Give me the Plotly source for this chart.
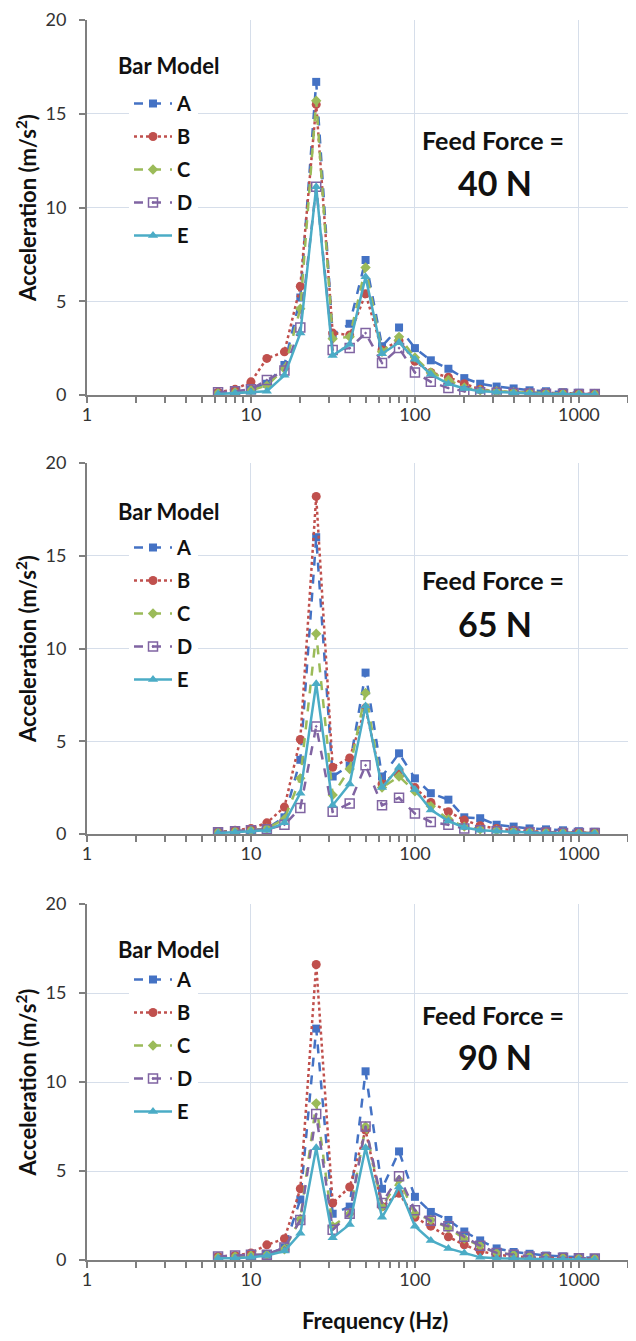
import plotly.graph_objects as go

freqs = [6.3, 8, 10, 12.5, 16, 20, 25, 31.5, 40, 50, 63, 80, 100, 125, 160, 200, 250, 315, 400, 500, 630, 800, 1000, 1250]
models = ["A", "B", "C", "D", "E"]
forces = ["40 N", "65 N", "90 N"]

f40_A = [0.1, 0.15, 0.3, 0.6, 1.6, 5.2, 16.7, 3.2, 3.8, 7.2, 2.6, 3.6, 2.5, 1.85, 1.4, 0.9, 0.6, 0.45, 0.35, 0.25, 0.2, 0.15, 0.12, 0.1]
f40_B = [0.15, 0.3, 0.7, 1.95, 2.3, 5.8, 15.5, 3.3, 3.2, 5.4, 2.4, 2.9, 1.8, 1.2, 0.95, 0.6, 0.3, 0.2, 0.15, 0.12, 0.1, 0.1, 0.08, 0.06]
f40_C = [0.1, 0.15, 0.25, 0.5, 1.4, 4.6, 15.7, 3.0, 3.1, 6.8, 2.3, 3.1, 2.0, 1.2, 0.8, 0.4, 0.25, 0.2, 0.15, 0.12, 0.1, 0.08, 0.06, 0.05]
f40_D = [0.15, 0.2, 0.3, 0.8, 1.3, 3.6, 11.1, 2.4, 2.5, 3.3, 1.7, 2.5, 1.2, 0.7, 0.37, 0.2, 0.15, 0.12, 0.1, 0.08, 0.07, 0.06, 0.05, 0.05]
f40_E = [0.05, 0.1, 0.15, 0.2, 1.05, 3.3, 11.1, 2.1, 2.7, 6.3, 2.2, 2.8, 1.9, 1.1, 0.6, 0.35, 0.2, 0.15, 0.1, 0.08, 0.06, 0.05, 0.04, 0.03]

f65_A = [0.1, 0.15, 0.2, 0.3, 0.9, 4.0, 16.0, 3.1, 3.7, 8.7, 3.1, 4.35, 3.0, 2.2, 1.85, 0.9, 0.85, 0.5, 0.4, 0.3, 0.25, 0.2, 0.15, 0.12]
f65_B = [0.1, 0.2, 0.3, 0.6, 1.45, 5.1, 18.2, 3.6, 4.1, 6.8, 2.7, 3.4, 2.5, 1.7, 1.2, 0.75, 0.45, 0.3, 0.2, 0.15, 0.12, 0.1, 0.08, 0.06]
f65_C = [0.1, 0.15, 0.2, 0.3, 0.8, 3.0, 10.8, 2.1, 3.5, 7.6, 2.5, 3.1, 2.3, 1.5, 0.8, 0.4, 0.25, 0.2, 0.15, 0.12, 0.1, 0.08, 0.06, 0.05]
f65_D = [0.1, 0.15, 0.2, 0.25, 0.5, 1.4, 5.8, 1.2, 1.65, 3.7, 1.55, 1.95, 1.1, 0.65, 0.5, 0.3, 0.2, 0.15, 0.12, 0.1, 0.08, 0.06, 0.05, 0.05]
f65_E = [0.05, 0.1, 0.15, 0.2, 0.6, 2.2, 8.1, 1.55, 2.7, 6.9, 2.5, 3.6, 2.4, 1.3, 0.7, 0.35, 0.2, 0.15, 0.1, 0.08, 0.06, 0.05, 0.04, 0.03]

f90_A = [0.15, 0.2, 0.25, 0.3, 0.7, 3.4, 13.0, 2.6, 3.0, 10.6, 4.0, 6.1, 3.55, 2.7, 2.25, 1.6, 1.1, 0.65, 0.45, 0.35, 0.25, 0.2, 0.15, 0.12]
f90_B = [0.2, 0.25, 0.4, 0.85, 1.2, 4.0, 16.6, 3.2, 4.1, 7.3, 3.0, 3.75, 2.4, 1.9, 1.3, 0.85, 0.5, 0.3, 0.2, 0.15, 0.12, 0.1, 0.08, 0.06]
f90_C = [0.15, 0.2, 0.25, 0.3, 0.6, 2.3, 8.8, 1.9, 2.6, 7.5, 3.0, 4.5, 2.6, 2.25, 1.8, 1.2, 0.8, 0.4, 0.3, 0.2, 0.15, 0.12, 0.1, 0.08]
f90_D = [0.2, 0.25, 0.3, 0.3, 0.7, 2.25, 8.2, 1.7, 2.6, 7.5, 3.2, 4.7, 2.8, 2.2, 1.9, 1.3, 0.8, 0.4, 0.3, 0.2, 0.15, 0.12, 0.1, 0.08]
f90_E = [0.1, 0.1, 0.15, 0.25, 0.5, 1.5, 6.3, 1.25, 2.0, 6.3, 2.4, 4.1, 1.9, 1.1, 0.65, 0.4, 0.15, 0.1, 0.08, 0.06, 0.05, 0.04, 0.03, 0.03]

x_tickvals = [1, 10, 100, 1000]
x_ticktext = ["1", "10", "100", "1000"]
y_tickvals = [0, 5, 10, 15, 20]

panels = [
    [f40_A, f40_B, f40_C, f40_D, f40_E],
    [f65_A, f65_B, f65_C, f65_D, f65_E],
    [f90_A, f90_B, f90_C, f90_D, f90_E],
]

styles = {
    "A": dict(color="#4472C4", dash="dash", symbol="square", size=8),
    "B": dict(color="#C0504D", dash="dot", symbol="circle", size=9),
    "C": dict(color="#9BBB59", dash="dash", symbol="diamond", size=8),
    "D": dict(color="#8064A2", dash="dash", symbol="square-open-dot", size=9),
    "E": dict(color="#4BACC6", dash="solid", symbol="triangle-up", size=9),
}

# page has an 8px body margin: positions below are screen pixels, converted
OFF = 8
W, H = 636 - OFF, 1341 - OFF
FONT = "Lato"


def px(xs):
    return (xs - OFF) / W


def py(ys):
    return 1 - (ys - OFF) / H


ypix = [(20, 395), (463, 834), (904, 1260)]
xdom = [px(87), px(633)]
legend_A = [104, 548, 980]
title_y = [65, 512, 950]
ann_y = [(140, 183), (580, 623), (1015, 1056)]

fig = go.Figure()
minor_vals = [m * 10 ** d for d in range(0, 4) for m in range(2, 10) if m * 10 ** d <= 2100]

for p, series in enumerate(panels):
    xa = "x" if p == 0 else f"x{p+1}"
    ya = "y" if p == 0 else f"y{p+1}"
    lg = "legend" if p == 0 else f"legend{p+1}"
    for m, vals in zip(models, series):
        s = styles[m]
        fig.add_trace(go.Scatter(
            x=freqs, y=vals, name=m, mode="lines+markers",
            xaxis=xa, yaxis=ya, legend=lg, legendgroup=f"{p}{m}",
            line=dict(color=s["color"], dash=s["dash"], width=2.5),
            marker=dict(symbol=s["symbol"], size=s["size"], color=s["color"],
                        line=dict(color=s["color"], width=1.5 if "open" in s["symbol"] else 0)),
        ))
    top, bot = ypix[p]
    ydom = [py(bot), py(top)]
    xkey = "xaxis" if p == 0 else f"xaxis{p+1}"
    ykey = "yaxis" if p == 0 else f"yaxis{p+1}"
    fig.layout[xkey] = dict(
        type="log", range=[0, 3.33], domain=xdom, anchor=ya, automargin=False,
        tickvals=x_tickvals, ticktext=x_ticktext,
        showgrid=True, gridcolor="#D6DEEA", gridwidth=1,
        showline=True, linecolor="#7F7F7F", linewidth=2,
        ticks="outside", ticklen=6, tickcolor="#7F7F7F", tickwidth=1.5,
        ticklabelstandoff=-4, ticklabeloverflow="allow",
        minor=dict(tickvals=minor_vals, ticks="outside", ticklen=6, tickcolor="#7F7F7F",
                   tickwidth=1.5, showgrid=False),
        tickfont=dict(family=FONT, size=18, color="#333333"),
        zeroline=False,
    )
    fig.layout[ykey] = dict(
        range=[0, 20], domain=ydom, anchor=xa, automargin=False,
        tickvals=y_tickvals,
        showgrid=True, gridcolor="#D6DEEA", gridwidth=1,
        showline=True, linecolor="#7F7F7F", linewidth=2,
        ticks="outside", ticklen=6, tickcolor="#7F7F7F", tickwidth=1.5,
        ticklabelstandoff=9, ticklabeloverflow="allow",
        tickfont=dict(family=FONT, size=18, color="#333333"),
        zeroline=False,
        title=dict(text="Acceleration (m/s<sup>2</sup>)", standoff=3,
                   font=dict(family=FONT, size=22, color="#111111", weight="bold")),
    )
    fig.layout[lg] = dict(
        x=px(129), xanchor="left", y=py(legend_A[p] - 20), yanchor="top",
        bgcolor="white", borderwidth=0,
        font=dict(family=FONT, size=20, color="#111111", weight="bold"),
        tracegroupgap=4, itemwidth=38,
    )
    fig.add_annotation(x=px(168), y=py(title_y[p]), xref="paper", yref="paper",
                       xanchor="center", yanchor="middle",
                       text="<b>Bar Model</b>", showarrow=False, bgcolor="white",
                       font=dict(family=FONT, size=22, color="#111111"))
    fy1, fy2 = ann_y[p]
    fig.add_annotation(x=px(493), y=py(fy1), xref="paper", yref="paper",
                       xanchor="center", yanchor="middle",
                       text="<b>Feed Force =</b>", showarrow=False,
                       font=dict(family=FONT, size=25, color="#111111"))
    fig.add_annotation(x=px(495), y=py(fy2), xref="paper", yref="paper",
                       xanchor="center", yanchor="middle",
                       text="<b>" + forces[p] + "</b>", showarrow=False,
                       font=dict(family=FONT, size=34, color="#111111"))

fig.add_annotation(x=px(375), y=py(1320), xref="paper", yref="paper",
                   xanchor="center", yanchor="middle",
                   text="<b>Frequency (Hz)</b>", showarrow=False,
                   font=dict(family=FONT, size=22, color="#111111"))

fig.update_layout(
    width=W, height=H, margin=dict(l=0, r=0, t=0, b=0, autoexpand=False),
    paper_bgcolor="white", plot_bgcolor="white",
    showlegend=True,
)

fig.write_html("out.html")
